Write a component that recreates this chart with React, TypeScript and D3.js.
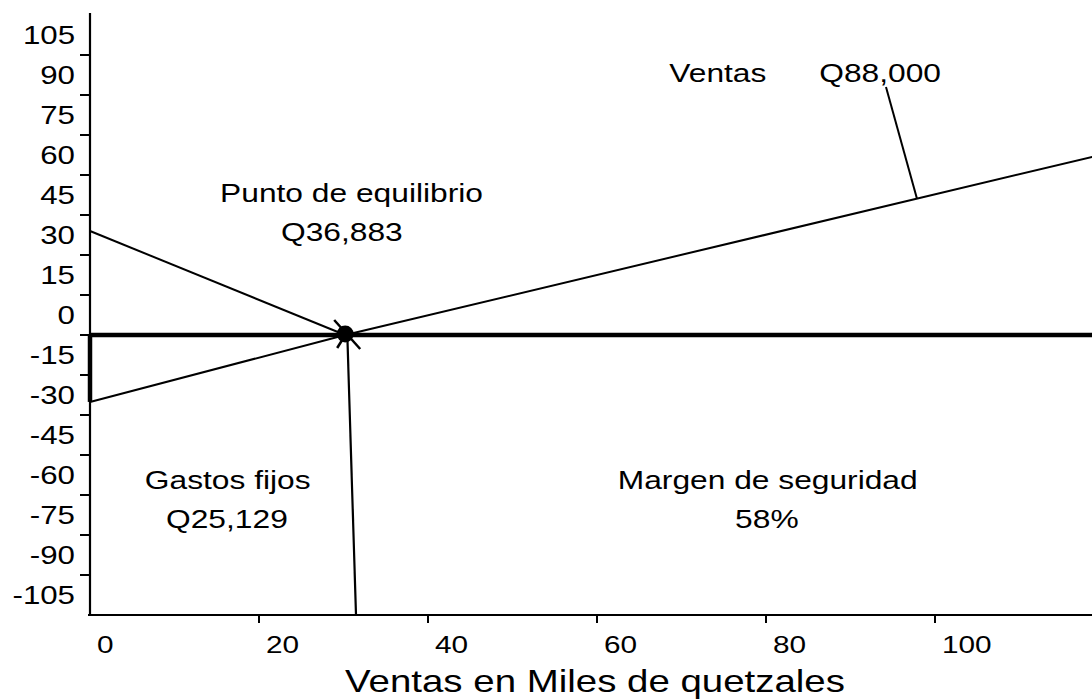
import React from "react";
import * as d3 from "d3";

// ---- data ----
const yTickValues = [105, 90, 75, 60, 45, 30, 15, 0, -15, -30, -45, -60, -75, -90, -105];
const yMinorTicks = [97.5, 82.5, 67.5, 52.5, 37.5, 22.5, 7.5, -7.5, -22.5, -37.5, -52.5, -67.5, -82.5, -97.5];
const xTickValues = [0, 20, 40, 60, 80, 100];
const ventasLine: [number, number][] = [[0, -32.6], [30.2, -7.5], [118.6, 59.3]];
const gastosLine: [number, number][] = [[0, 31.5], [30.2, -7.5]];
const breakEvenLevel = -7.5;
const breakEvenPoint: [number, number] = [30.2, -7.5];
const dropLine: [number, number][] = [[30.47, -9.4], [31.48, -112.5]];
const leaderLine: [number, number][] = [[94.2, 85.5], [97.87, 43.6]];
const axisThickSegment: [number, number][] = [[0, -7.5], [0, -32.6]];
const annotations = [
  { text: "Ventas", x: 74.3, y: 87.4 },
  { text: "Q88,000", x: 93.5, y: 87.4 },
  { text: "Punto de equilibrio", x: 30.95, y: 42.4 },
  { text: "Q36,883", x: 29.8, y: 27.8 },
  { text: "Gastos fijos", x: 16.3, y: -65.3 },
  { text: "Q25,129", x: 16.2, y: -79.9 },
  { text: "Margen de seguridad", x: 80.2, y: -65.3 },
  { text: "58%", x: 80.1, y: -79.9 },
];
const xTitle = "Ventas en Miles de quetzales";

const W = 1092;
const H = 700;
const FONT = "'Liberation Sans', Arial, Helvetica, sans-serif";

const x = d3.scaleLinear().domain([0, 100]).range([90, 935]);
const y = d3.scaleLinear().domain([-112.5, 112.5]).range([615, 15]);

function T({ px, py, text, size, sx, anchor }: { px: number; py: number; text: string; size: number; sx: number; anchor: string }) {
  return (
    <text
      transform={`translate(${px},${py}) scale(${sx},1)`}
      textAnchor={anchor}
      fontSize={size}
      fontFamily={FONT}
      fill="#000"
    >
      {text}
    </text>
  );
}

export default function App() {
  const line = d3.line<[number, number]>().x((d) => x(d[0])).y((d) => y(d[1]));
  const xMaxVal = x.invert(W);
  const bottom = y(-112.5);
  const top = 13;
  const bx = x(breakEvenPoint[0]);
  const by = y(breakEvenPoint[1]);
  return (
    <svg width={W} height={H} style={{ position: "absolute", left: 0, top: 0, background: "#fff" }}>
      <rect x={0} y={0} width={W} height={H} fill="#fff" />
      {/* axes */}
      <line x1={x(0)} y1={top} x2={x(0)} y2={bottom + 1} stroke="#000" strokeWidth={2.2} />
      <line x1={x(0) - 2} y1={bottom} x2={W} y2={bottom} stroke="#000" strokeWidth={2.2} />
      {yMinorTicks.map((v) => (
        <line key={"yt" + v} x1={x(0) - 10} x2={x(0)} y1={y(v)} y2={y(v)} stroke="#000" strokeWidth={2} />
      ))}
      {xTickValues.filter((v) => v > 0).map((v) => (
        <line key={"xt" + v} x1={x(v)} x2={x(v)} y1={bottom} y2={bottom + 8} stroke="#000" strokeWidth={2} />
      ))}
      {yTickValues.map((v) => (
        <T key={"yl" + v} px={75} py={y(v) + 9} text={String(v)} size={25} sx={1.25} anchor="end" />
      ))}
      {xTickValues.map((v) => (
        <T key={"xl" + v} px={x(v) + 7} py={653} text={String(v)} size={24} sx={1.24} anchor="start" />
      ))}
      <T px={595} py={692} text={xTitle} size={31} sx={1.24} anchor="middle" />

      {/* lines */}
      <path d={line(axisThickSegment) || ""} stroke="#000" strokeWidth={4.5} fill="none" />
      <line x1={x(0)} x2={x(xMaxVal)} y1={y(breakEvenLevel)} y2={y(breakEvenLevel)} stroke="#000" strokeWidth={4.5} />
      <path d={line(gastosLine) || ""} stroke="#000" strokeWidth={2} fill="none" />
      <path d={line(ventasLine) || ""} stroke="#000" strokeWidth={2} fill="none" />
      <path d={line(dropLine) || ""} stroke="#000" strokeWidth={2.2} fill="none" />
      <path d={line(leaderLine) || ""} stroke="#000" strokeWidth={2} fill="none" />

      {/* break-even marker */}
      <line x1={bx - 11} y1={by - 15} x2={bx + 15} y2={by + 14} stroke="#000" strokeWidth={2.5} />
      <line x1={bx} y1={by} x2={bx - 8} y2={by + 13} stroke="#000" strokeWidth={2.5} />
      <circle cx={bx} cy={by - 1} r={8.5} fill="#000" />

      {/* annotations */}
      {annotations.map((a) => (
        <T key={a.text} px={x(a.x)} py={y(a.y)} text={a.text} size={25} sx={1.27} anchor="middle" />
      ))}
    </svg>
  );
}
